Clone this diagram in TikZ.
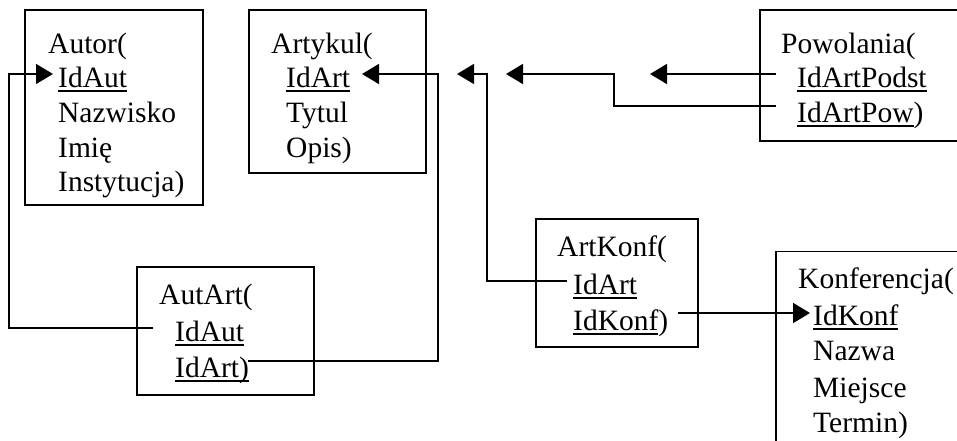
\documentclass[tikz,border=0pt]{standalone}
\usepackage{fontspec}
\setmainfont{Liberation Serif}
\usetikzlibrary{arrows.meta}
% key attribute: text with a thick rule beneath it
\newcommand\keyattr[1]{\setbox0\hbox{#1}\rlap{\rule[-4.5pt]{\wd0}{2pt}}\box0}
\begin{document}
\begin{tikzpicture}[x=1pt,y=-1pt,
  tbl/.style={draw, line width=1.6pt, rectangle, inner sep=0pt, anchor=north west},
  attr/.style={anchor=base west, inner sep=0pt, font=\fontsize{29.5}{34}\selectfont},
  fk/.style={line width=1.6pt, -{Triangle[length=17pt,width=20pt]}}]
\useasboundingbox (0,0) rectangle (957,441);
\clip (0,0) rectangle (957,441);

% ---- tables ----
\node[tbl, minimum width=178pt, minimum height=194.5pt] (autor) at (24,9.5) {};
\node[attr] (autor-h)  at (48,54)    {Autor(};
\node[attr] (autor-id) at (58,88)    {\keyattr{IdAut}};
\node[attr] (autor-a1) at (58,122.5) {Nazwisko};
\node[attr] (autor-a2) at (58,157)   {Imię};
\node[attr] (autor-a3) at (58,191.5) {Instytucja)};

\node[tbl, minimum width=177pt, minimum height=162.5pt] (artykul) at (248,9.5) {};
\node[attr] (art-h)  at (271,54)    {Artykul(};
\node[attr] (art-id) at (286,88)    {\keyattr{IdArt}};
\node[attr] (art-a1) at (286,122.5) {Tytul};
\node[attr] (art-a2) at (286,157)   {Opis)};

\node[tbl, minimum width=230pt, minimum height=130.5pt] (powolania) at (759,9.5) {};
\node[attr] (pow-h)  at (781,54)    {Powolania(};
\node[attr] (pow-k1) at (797,88)    {\keyattr{IdArtPodst}};
\node[attr] (pow-k2) at (797,122.5) {\keyattr{IdArtPow})};

\node[tbl, minimum width=177pt, minimum height=128pt] (autart) at (136,266) {};
\node[attr] (aa-h)  at (159,304) {AutArt(};
\node[attr] (aa-k1) at (175,341) {\keyattr{IdAut}};
\node[attr] (aa-k2) at (175,377) {\keyattr{IdArt)}};

\node[tbl, minimum width=162pt, minimum height=128pt] (artkonf) at (535,218) {};
\node[attr] (ak-h)  at (557,256) {ArtKonf(};
\node[attr] (ak-k1) at (573,294) {\keyattr{IdArt}};
\node[attr] (ak-k2) at (573,330) {\keyattr{IdKonf})};

\node[tbl, minimum width=230pt, minimum height=230pt] (konf) at (775,250.7) {};
\node[attr] (konf-h)  at (798,288) {Konferencja(};
\node[attr] (konf-id) at (813,325) {\keyattr{IdKonf}};
\node[attr] (konf-a1) at (813,360) {Nazwa};
\node[attr] (konf-a2) at (813,397) {Miejsce};
\node[attr] (konf-a3) at (813,432) {Termin)};

% ---- connector ends and bends ----
\coordinate (aa-k1-out)  at (153,328);
\coordinate (c1)         at (9,328);
\coordinate (autor-in)   at (53,74);
\coordinate (aa-k2-out)  at (248,361);
\coordinate (c2)         at (438,361);
\coordinate (art-in)     at (362,74);
\coordinate (pow-k1-out) at (776,74);
\coordinate (pow-k1-in)  at (650,74);
\coordinate (pow-k2-out) at (776,106);
\coordinate (c3)         at (614,106);
\coordinate (pow-k2-in)  at (506,74);
\coordinate (ak-k1-out)  at (567,281);
\coordinate (c4)         at (487,281);
\coordinate (ak-k1-in)   at (457,74);
\coordinate (ak-k2-out)  at (678,313);
\coordinate (konf-in)    at (810,313);

% ---- foreign keys ----
\draw[fk] (aa-k1-out) -- (c1) |- (autor-in);
\draw[fk] (aa-k2-out) -- (c2) |- (art-in);
\draw[fk] (pow-k1-out) -- (pow-k1-in);
\draw[fk] (pow-k2-out) -- (c3) |- (pow-k2-in);
\draw[fk] (ak-k1-out) -- (c4) |- (ak-k1-in);
\draw[fk] (ak-k2-out) -- (konf-in);
\end{tikzpicture}
\end{document}
